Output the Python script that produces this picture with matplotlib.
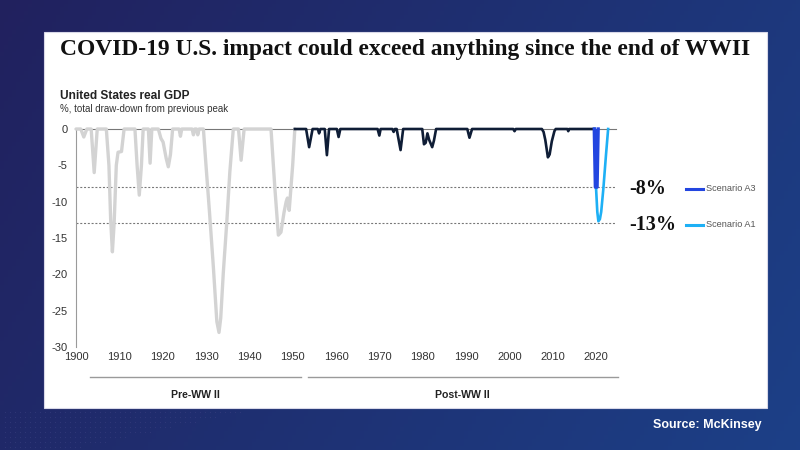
import numpy as np
import matplotlib
matplotlib.use("Agg")
import matplotlib.pyplot as plt
from matplotlib.patches import Rectangle
from matplotlib.lines import Line2D
import matplotlib.transforms as mtransforms

# ---------------- data ----------------
pre_years = [1900, 1901.1, 1901.8, 1902.5, 1903.5, 1904.2, 1904.9,
             1907.0, 1907.6, 1908.0, 1908.4, 1908.8, 1909.3, 1909.7, 1910.5, 1911.1,
             1913.6, 1914.1, 1914.6, 1915.1, 1915.5,
             1916.7, 1917.1, 1917.5,
             1919.0, 1919.6, 1920.1, 1920.8, 1921.3, 1921.8, 1922.3,
             1923.8, 1924.1, 1924.4,
             1926.8, 1927.1, 1927.4, 1927.8, 1928.1, 1928.4,
             1929.4, 1930.0, 1930.8, 1931.7, 1932.5, 1933.0, 1933.4, 1934.0, 1934.8, 1935.5, 1936.3,
             1937.5, 1938.1, 1938.8,
             1945.0, 1945.9, 1946.7, 1947.3, 1948.0, 1948.5, 1948.8, 1949.2, 1950.0, 1950.5]
pre_values = [0, 0, -1.1, 0, 0, -6.0, 0,
              0, -5.0, -12.5, -16.9, -13.0, -5.0, -3.2, -3.1, 0,
              0, -5.0, -9.1, -5.0, 0,
              0, -4.7, 0,
              0, -1.3, -1.8, -4.0, -5.2, -3.5, 0,
              0, -1.0, 0,
              0, -0.8, 0, 0, -0.8, 0,
              0, -5.0, -11.4, -19.0, -26.5, -28.0, -26.0, -19.7, -12.8, -5.9, 0,
              0, -4.3, 0,
              0, -8.2, -14.6, -14.2, -11.5, -10.0, -9.5, -11.2, -5.0, 0]

post_years = [1950.5, 1953.1, 1953.8, 1954.6, 1955.8, 1956.1, 1956.4,
              1957.4, 1957.9, 1958.4, 1960.2, 1960.6, 1961.0,
              1969.6, 1970.0, 1970.3, 1973.0, 1973.3, 1973.6, 1974.0, 1974.4, 1974.9, 1975.5,
              1979.9, 1980.3, 1980.7, 1981.1, 1981.5, 1982.2, 1982.6, 1983.1,
              1990.3, 1990.8, 1991.4, 2000.9, 2001.2, 2001.5,
              2007.5, 2007.9, 2008.3, 2008.9, 2009.3, 2009.8, 2010.4, 2010.7,
              2013.4, 2013.6, 2013.8, 2019.6]
post_values = [0, 0, -2.5, 0, 0, -0.6, 0,
               0, -3.6, 0, 0, -1.1, 0,
               0, -0.9, 0, 0, -0.4, 0, 0, -1.3, -2.9, 0,
               0, -2.1, -1.9, -0.6, -1.5, -2.5, -1.6, 0,
               0, -1.2, 0, 0, -0.3, 0,
               0, -0.4, -1.5, -3.9, -3.5, -1.7, -0.3, 0,
               0, -0.3, 0, 0]

a3_years = [2019.6, 2019.85, 2020.25, 2020.5]
a3_values = [0, -8.0, -8.0, 0]

a1_years = [2019.7, 2020.0, 2020.3, 2020.55, 2020.9, 2021.2, 2021.7, 2022.3, 2022.8]
a1_values = [0, -8.0, -11.4, -12.7, -12.4, -11.4, -8.2, -3.6, 0]

scenario_levels = [-8, -13]
scenario_labels = ["-8%", "-13%"]
scenario_names = ["Scenario A3", "Scenario A1"]
scenario_colors = ["#2346e0", "#1eb0f5"]

x_ticks = [1900, 1910, 1920, 1930, 1940, 1950, 1960, 1970, 1980, 1990, 2000, 2010, 2020]
y_ticks = [0, -5, -10, -15, -20, -25, -30]
groups = ["Pre-WW II", "Post-WW II"]
group_spans = [(1903.2, 1951.9), (1953.5, 2025.0)]

# ---------------- figure ----------------
W, H = 800, 450
fig = plt.figure(figsize=(8, 4.5), dpi=100)

# background gradient
bg = fig.add_axes([0, 0, 1, 1])
bg.set_axis_off()
gx = np.linspace(0, 1, 200)
gy = np.linspace(0, 1, 120)
GX, GY = np.meshgrid(gx, gy)
c0 = np.array([0.13, 0.13, 0.37])
c1 = np.array([0.11, 0.25, 0.53])
t = np.clip(0.75 * GX + 0.25 * GY, 0, 1)[..., None]
img = c0 * (1 - t) + c1 * t
bg.imshow(img, extent=[0, 1, 0, 1], aspect="auto", origin="upper")
# subtle dotted pattern bottom-left
dx, dy = np.meshgrid(np.arange(5, 330, 5), np.arange(412, 450, 5))
mask = (dx - 10) < (450 - dy) * 4.5 + 60
bg.scatter(dx[mask] / W, 1 - dy[mask] / H, s=0.4, c="#3a3f80", alpha=0.6, linewidths=0)
bg.set_xlim(0, 1)
bg.set_ylim(0, 1)

# white panel
bg.add_patch(Rectangle((44 / W, 1 - 408 / H), (767 - 44) / W, (408 - 32) / H,
                       facecolor="white", edgecolor="#d8d8e8", linewidth=0.8, zorder=2))

def fx(px):
    return px / W

def fy(py):
    return 1 - py / H

fig.text(fx(60), fy(50), "COVID-19 U.S. impact could exceed anything since the end of WWII",
         family="Liberation Serif", weight="bold", fontsize=16.9, color="#111111",
         ha="left", va="center", zorder=5)
fig.text(fx(60), fy(96), "United States real GDP", family="Liberation Sans",
         weight="bold", fontsize=8.6, color="#222222", ha="left", va="center")
fig.text(fx(60), fy(109), "%, total draw-down from previous peak",
         family="Liberation Sans", fontsize=7.0, color="#333333", ha="left", va="center")

# main axes
x0, x1 = 1900, 2024.5
left_px, right_px = 76, 615.5
top_px, bot_px = 129, 347
ax = fig.add_axes([fx(left_px), fy(bot_px), (right_px - left_px) / W, (bot_px - top_px) / H])
ax.set_xlim(x0, x1)
ax.set_ylim(-30, 0)
ax.patch.set_alpha(0)
for s in ["top", "right", "bottom"]:
    ax.spines[s].set_visible(False)
ax.spines["left"].set_color("#9a9a9a")
ax.spines["left"].set_linewidth(0.8)
ax.set_xticks(x_ticks)
ax.set_yticks(y_ticks)
ax.set_yticklabels([str(v) for v in y_ticks])
ax.tick_params(axis="both", length=0, labelsize=8, labelcolor="#333333")
ax.tick_params(axis="y", pad=6)
ax.tick_params(axis="x", pad=3.5)
for lab in ax.get_xticklabels() + ax.get_yticklabels():
    lab.set_family("Liberation Sans")

# zero line and dashed reference lines
ax.plot([x0, x1], [0, 0], color="#777777", lw=0.8, clip_on=False, zorder=1)
for lvl in scenario_levels:
    ax.plot([x0, x1], [lvl, lvl], color="#777777", lw=0.8, ls=(0, (1.8, 1.6)), zorder=1)

ax.plot(pre_years, pre_values, color="#d3d3d3", lw=2.4, solid_joinstyle="round",
        solid_capstyle="round", clip_on=False, zorder=3)
ax.plot(post_years, post_values, color="#0f1d36", lw=1.9, solid_joinstyle="round",
        clip_on=False, zorder=4)
ax.plot(a1_years, a1_values, color=scenario_colors[1], lw=1.9, solid_joinstyle="round",
        clip_on=False, zorder=5)
ax.plot(a3_years, a3_values, color=scenario_colors[0], lw=2.4, solid_joinstyle="round",
        clip_on=False, zorder=6)
ax.fill(a3_years, a3_values, color=scenario_colors[0], lw=0, zorder=6)

# scenario annotations
for lvl, lab, name, col in zip(scenario_levels, scenario_labels, scenario_names, scenario_colors):
    ypix = top_px + (-lvl) * (bot_px - top_px) / 30.0 + 1.5
    fig.text(fx(629), fy(ypix), lab, family="Liberation Serif", weight="bold",
             fontsize=14.5, color="#111111", ha="left", va="center")
    fig.add_artist(Line2D([fx(686), fx(703)], [fy(ypix), fy(ypix)], color=col, lw=2.2))
    fig.text(fx(706), fy(ypix), name, family="Liberation Sans", fontsize=6.6,
             color="#555555", ha="left", va="center")

# group brackets
trans = mtransforms.blended_transform_factory(ax.transData, fig.transFigure)
for name, (g0, g1) in zip(groups, group_spans):
    fig.add_artist(Line2D([g0, g1], [fy(376.5), fy(376.5)], transform=trans,
                          color="#9a9a9a", lw=1.0))
    fig.text((g0 + g1) / 2, fy(395), name, transform=trans, family="Liberation Sans",
             weight="bold", fontsize=7.6, color="#222222", ha="center", va="center")

fig.text(fx(762), fy(425), "Source: McKinsey", family="Liberation Sans", weight="bold",
         fontsize=9, color="white", ha="right", va="center")

fig.savefig("out.png", dpi=100)
